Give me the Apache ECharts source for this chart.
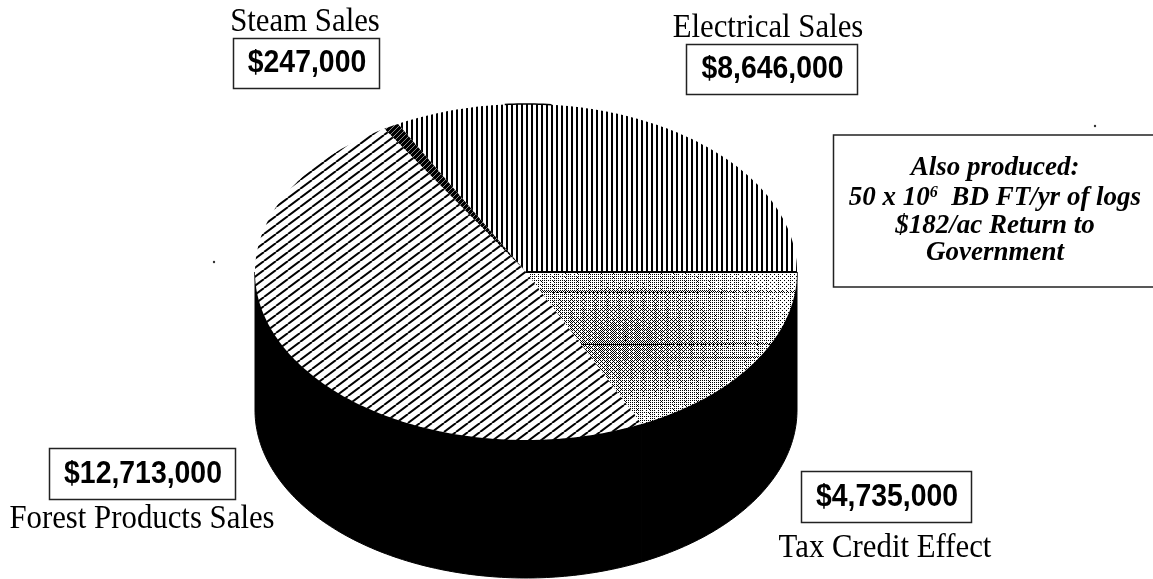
<!DOCTYPE html>
<html>
<head>
<meta charset="utf-8">
<style>html,body{margin:0;padding:0;background:#fff}#chart{width:1153px;height:579px}</style>
<script src="https://cdn.jsdelivr.net/npm/echarts@6/dist/echarts.min.js"></script>
</head>
<body>
<div id="chart"></div>
<script>
// Annual revenue by source, in dollars, counter-clockwise from the 3 o'clock position.
const categories = ['Electrical Sales', 'Steam Sales', 'Forest Products Sales', 'Tax Credit Effect'];
const revenue = [8646000, 247000, 12713000, 4735000];
const noteLines = ['Also produced:', '50 x 10{sup|6}  BD FT/yr of logs', '$182/ac Return to', 'Government'];

// Disc geometry: top ellipse and the height of its rim.
const disc = { cx: 526, cy: 272, rx: 271, ry: 168, depth: 138 };

// Callout placement, by category.
const callouts = {
  'Electrical Sales':      { box: [686, 44, 171, 50],  name: [768, 28] },
  'Steam Sales':           { box: [233, 38, 146, 50],  name: [305, 22] },
  'Forest Products Sales': { box: [49, 448, 186, 51],  name: [142, 519] },
  'Tax Credit Effect':     { box: [801, 471, 170, 51], name: [885, 548] }
};

function tile(w, h, draw) {
  const c = document.createElement('canvas');
  c.width = w; c.height = h;
  const g = c.getContext('2d');
  g.fillStyle = '#fff'; g.fillRect(0, 0, w, h);
  draw(g, w, h);
  return { type: 'pattern', image: c, repeat: 'repeat' };
}
function diagonal(g, w, h, width, colour) {
  g.strokeStyle = colour; g.lineWidth = width;
  for (let k = -w; k <= w; k += w) {
    g.beginPath(); g.moveTo(k, h); g.lineTo(k + w, 0); g.stroke();
  }
}

const verticalHatch = tile(5, 5, (g) => { g.fillStyle = '#000'; g.fillRect(1, 0, 2, 5); });
const denseHatch = tile(5, 5, (g) => { g.fillStyle = '#000'; g.fillRect(0, 0, 5, 5); diagonal(g, 5, 5, 1, '#888'); });
const diagonalHatch = tile(12, 9, (g, w, h) => diagonal(g, w, h, 2, '#000'));

// Ordered-dither stipple, heavier toward the middle of its wedge.
const stipple = tile(1153, 579, (g, w, h) => {
  const bayer = [[0, 8, 2, 10], [12, 4, 14, 6], [3, 11, 1, 9], [15, 7, 13, 5]];
  const img = g.getImageData(0, 0, w, h);
  for (let y = 260; y < 460; y++) {
    for (let x = 520; x < 810; x++) {
      const dist = Math.hypot((x - 625) / 170, (y - 340) / 95);
      let d = 0.44 - 0.34 * Math.min(dist, 1);
      if (y === 343 || y === 344 || y === 291 || y === 292 || y === 357) d += 0.28;
      if (x % 3 === 1) d += 0.08;
      if (bayer[y % 4][x % 4] / 16 < d) {
        const i = (y * w + x) * 4;
        img.data[i] = img.data[i + 1] = img.data[i + 2] = 0;
      }
    }
  }
  g.putImageData(img, 0, 0);
});

const fills = [verticalHatch, denseHatch, diagonalHatch, stipple];
const total = revenue.reduce((a, b) => a + b, 0);
const startOf = (i) => revenue.slice(0, i).reduce((a, b) => a + b, 0) / total * Math.PI * 2;

function rimPoint(t, drop) {
  return [disc.cx + disc.rx * Math.cos(t), disc.cy + drop - disc.ry * Math.sin(t)];
}
function arc(from, to, drop) {
  const steps = Math.max(2, Math.ceil(Math.abs(to - from) * 60));
  const pts = [];
  for (let s = 0; s <= steps; s++) pts.push(rimPoint(from + (to - from) * s / steps, drop));
  return pts;
}

function renderSlice(params, api) {
  const i = params.dataIndex;
  const a0 = startOf(i);
  const a1 = a0 + api.value(0) / total * Math.PI * 2;
  const children = [];

  // The rim is only visible along the lower half of the ellipse.
  const w0 = Math.max(a0, Math.PI), w1 = a1;
  if (w1 > w0) {
    children.push({
      type: 'polygon',
      shape: { points: arc(w0, w1, 0).concat(arc(w1, w0, disc.depth)) },
      style: { fill: '#000', stroke: '#000', lineWidth: 1 }
    });
  }
  children.push({
    type: 'polygon',
    shape: { points: [[disc.cx, disc.cy]].concat(arc(a0, a1, 0)) },
    style: { fill: fills[i] }
  });
  // Dark divider where the first and last slices meet, and the short flat run at the crown.
  if (i === 0) {
    children.push({
      type: 'line',
      z2: 5,
      shape: { x1: disc.cx, y1: disc.cy, x2: disc.cx + disc.rx, y2: disc.cy },
      style: { stroke: '#000', lineWidth: 2 }
    });
    children.push({
      type: 'polyline',
      z2: 5,
      shape: { points: arc(Math.PI * 0.47, Math.PI * 0.525, 0) },
      style: { fill: null, stroke: '#000', lineWidth: 1.5 }
    });
  }
  return { type: 'group', children };
}

const graphics = [];
categories.forEach((name, i) => {
  const c = callouts[name];
  graphics.push({
    type: 'rect',
    shape: { x: c.box[0] + 0.5, y: c.box[1] + 0.5, width: c.box[2], height: c.box[3] },
    style: { fill: '#fff', stroke: '#222', lineWidth: 1.5 }
  });
  graphics.push({
    type: 'text',
    x: c.box[0] + c.box[2] / 2 + 1,
    y: c.box[1] + c.box[3] / 2 + 1,
    scaleY: 1.08,
    style: {
      text: '$' + revenue[i].toLocaleString('en-US'),
      font: 'bold 28.4px "Liberation Sans"',
      fill: '#000',
      align: 'center', verticalAlign: 'middle'
    }
  });
  graphics.push({
    type: 'text',
    x: c.name[0],
    y: c.name[1],
    scaleY: 1.1,
    style: {
      text: name,
      font: '30.8px "Liberation Serif"',
      fill: '#000', align: 'center', verticalAlign: 'middle'
    }
  });
});

// Side note, open on its right where it runs off the page.
graphics.push({
  type: 'polyline',
  shape: { points: [[1153, 135], [833.5, 135], [833.5, 287], [1153, 287]] },
  style: { fill: null, stroke: '#222', lineWidth: 1.5 }
});
noteLines.forEach((line, i) => {
  graphics.push({
    type: 'text',
    x: 995,
    y: [168, 198, 226, 253][i],
    style: {
      text: line,
      fill: '#000',
      align: 'center',
      verticalAlign: 'middle',
      font: 'italic bold 27px "Liberation Serif"',
      rich: {
        sup: { font: 'italic bold 16px "Liberation Serif"', verticalAlign: 'top', lineHeight: 24, fill: '#000' }
      }
    }
  });
});

// Two small printer's specks in the margins.
[[214, 262], [1095, 126]].forEach((p) => {
  graphics.push({ type: 'circle', shape: { cx: p[0], cy: p[1], r: 1.2 }, style: { fill: '#333' } });
});

const chart = echarts.init(document.getElementById('chart'), null, { renderer: 'canvas' });
chart.setOption({
  animation: false,
  backgroundColor: '#fff',
  series: [{
    type: 'custom',
    coordinateSystem: 'none',
    renderItem: renderSlice,
    data: categories.map((name, i) => ({ name, value: [revenue[i]] })),
    silent: true
  }],
  graphic: { elements: graphics }
});
</script>
</body>
</html>
